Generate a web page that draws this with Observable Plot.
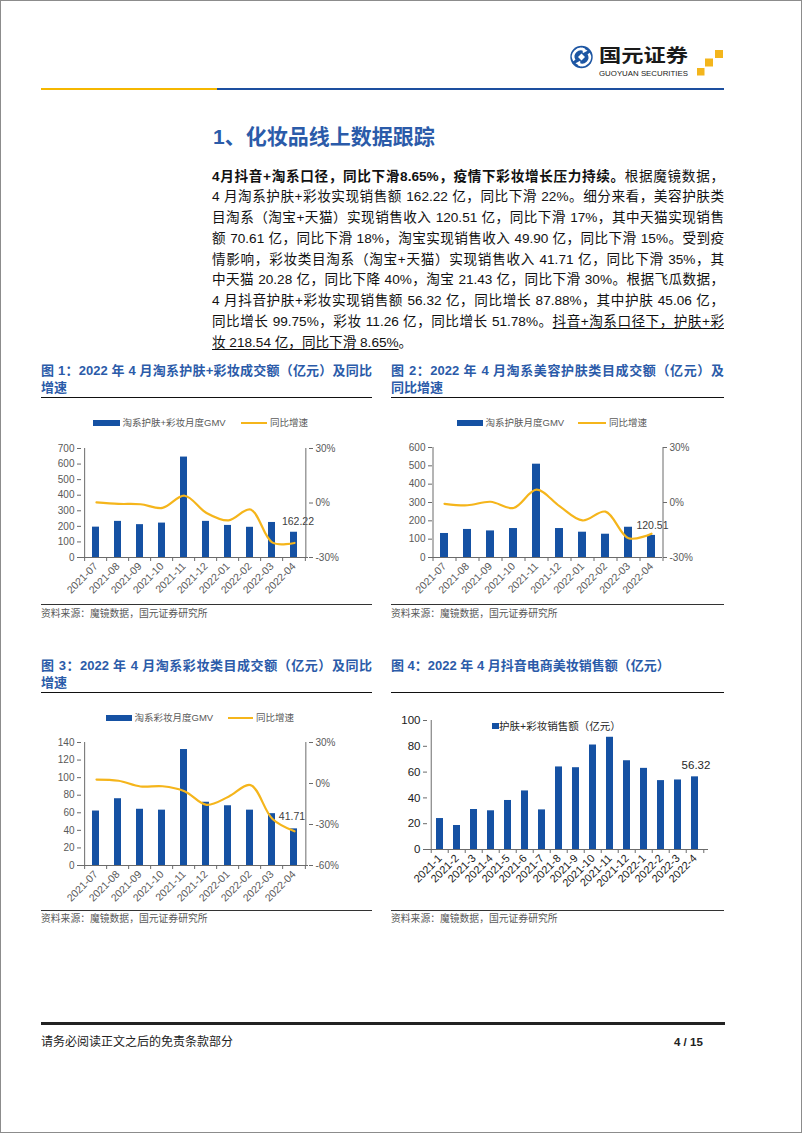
<!DOCTYPE html>
<html><head><meta charset="utf-8">
<script src="https://cdn.jsdelivr.net/npm/d3@7"></script>
<script src="https://cdn.jsdelivr.net/npm/@observablehq/plot@0.6"></script>
<style>
body{margin:0;background:#fff;}
#page{position:relative;width:802px;height:1133px;overflow:hidden;background:#fff;font-family:"Liberation Sans","Noto Sans CJK SC",sans-serif;color:#111;}
#page div{position:absolute;}
u{text-decoration:underline;text-underline-offset:2px;}
</style></head><body><div id="page"></div>
<script>
// ---------- data ----------
const months1 = ["2021-07","2021-08","2021-09","2021-10","2021-11","2021-12","2022-01","2022-02","2022-03","2022-04"];
const gmvTotal = [195, 232, 211, 221, 645, 232, 206, 194, 225, 162.22];
const yoyTotal = [0.3, -0.5, -0.7, -2.7, 4.0, -5.5, -9.6, -3.6, -21.8, -22.0];
const gmvSkin = [131, 153, 145, 158, 509, 158, 138, 127, 165, 120.51];
const yoySkin = [-0.7, -1.5, 0.4, -3.0, 7.0, -2.0, -9.8, -5.0, -19.5, -17.0];
const gmvMakeup = [62, 76, 64, 63, 132, 72, 68, 63, 59, 41.71];
const yoyMakeup = [2.9, 2.0, -2.2, -2.0, -5.6, -15.6, -9.7, -1.2, -26.0, -35.0];
const months4 = ["2021-1","2021-2","2021-3","2021-4","2021-5","2021-6","2021-7","2021-8","2021-9","2021-10","2021-11","2021-12","2022-1","2022-2","2022-3","2022-4"];
const douyinSales = [24, 18.6, 31, 30, 38, 45.4, 30.7, 64, 63.4, 81, 87, 68.8, 62.9, 53.4, 53.9, 56.32];
const ticks1 = [0,100,200,300,400,500,600,700];
const ticks2 = [0,100,200,300,400,500,600];
const ticks3 = [0,20,40,60,80,100,120,140];
const ticks4 = [0,20,40,60,80,100];
const pctTicks1 = [-30,0,30];
const pctTicks3 = [-60,-30,0,30];

// ---------- styles ----------
const BLUE = "#1551a3", YEL = "#f5b51b", AX = "#6b6b6b", TBLUE = "#2b5ba9";
const FONT = "'Liberation Sans','Noto Sans CJK SC',sans-serif";
const page = document.getElementById("page");

function box(x, y, w, h, bg, extra) {
  const d = document.createElement("div");
  Object.assign(d.style, {left: x+"px", top: y+"px", width: w+"px", height: h+"px", background: bg}, extra || {});
  page.appendChild(d); return d;
}
function txt(html, x, y, o) {
  o = o || {};
  const lh = o.lh || 16;
  const d = document.createElement("div");
  d.innerHTML = html;
  const st = {left: x+"px", top: (y - lh/2)+"px", lineHeight: lh+"px", fontSize: (o.size||12)+"px",
    fontWeight: o.weight||"normal", color: o.color||"#111", whiteSpace: o.w ? "normal" : "nowrap"};
  if (o.w) { st.width = o.w+"px"; }
  if (o.justify) { st.textAlign = "justify"; st.textAlignLast = "justify"; }
  Object.assign(d.style, st);
  page.appendChild(d); return d;
}

// ---------- header ----------
const logo = document.createElementNS("http://www.w3.org/2000/svg","svg");
logo.setAttribute("width","170"); logo.setAttribute("height","42");
logo.style.position="absolute"; logo.style.left="565px"; logo.style.top="42px";
logo.innerHTML = `
 <circle cx="16.5" cy="15" r="11.2" fill="#1d56a3"/>
 <path d="M9.3 18.5 A7.6 7.6 0 0 1 19.5 8" stroke="#fff" stroke-width="2.6" fill="none"/>
 <path d="M17.5 5.5 L22.5 8.8 L17.8 11.2 Z" fill="#fff"/>
 <path d="M23.7 11.5 A7.6 7.6 0 0 1 13.5 22" stroke="#fff" stroke-width="2.6" fill="none"/>
 <path d="M15.5 24.5 L10.5 21.2 L15.2 18.8 Z" fill="#fff"/>
 <path d="M16.5 11.5 L20 15 L16.5 18.5 L13 15 Z" fill="#fff"/>
 <text x="34" y="20" font-size="18.5" font-weight="bold" font-family="Noto Sans CJK SC" fill="#1a1a1a" textLength="89" lengthAdjust="spacingAndGlyphs">国元证券</text>
 <text x="34" y="33.5" font-size="7.5" font-family="Liberation Sans Narrow, Liberation Sans" fill="#1a1a1a" textLength="89" lengthAdjust="spacingAndGlyphs">GUOYUAN SECURITIES</text>
 <rect x="150" y="8" width="8" height="8" fill="#f3b51c"/>
 <rect x="140" y="16.5" width="8" height="8" fill="#f3b51c"/>
 <rect x="132" y="26" width="7.5" height="7.5" fill="#f3b51c"/>`;
page.appendChild(logo);
box(41, 88, 176, 2, "#f5b700");
box(217, 88, 507, 2, "#1d4f9f");

// ---------- section title & paragraph ----------
txt("1、化妆品线上数据跟踪", 213, 137, {size: 21, weight: "bold", color: TBLUE, lh: 26});
const paraLines = [
  "<b>4月抖音+淘系口径，同比下滑8.65%，疫情下彩妆增长压力持续。</b>根据魔镜数据，",
  "4 月淘系护肤+彩妆实现销售额 162.22 亿，同比下滑 22%。细分来看，美容护肤类",
  "目淘系（淘宝+天猫）实现销售收入 120.51 亿，同比下滑 17%，其中天猫实现销售",
  "额 70.61 亿，同比下滑 18%，淘宝实现销售收入 49.90 亿，同比下滑 15%。受到疫",
  "情影响，彩妆类目淘系（淘宝+天猫）实现销售收入 41.71 亿，同比下滑 35%，其",
  "中天猫 20.28 亿，同比下降 40%，淘宝 21.43 亿，同比下滑 30%。根据飞瓜数据，",
  "4 月抖音护肤+彩妆实现销售额 56.32 亿，同比增长 87.88%，其中护肤 45.06 亿，",
  "同比增长 99.75%，彩妆 11.26 亿，同比增长 51.78%。<u>抖音+淘系口径下，护肤+彩</u>",
  "<u>妆 218.54 亿，同比下滑 8.65%</u>。"
];
paraLines.forEach((l, i) => {
  const last = i === paraLines.length - 1;
  txt(l, 212, 177 + i*20.75, {size: 13.6, lh: 20.75, w: last ? null : 512, justify: !last, color: "#111"});
});

// ---------- figure titles ----------
function figTitle(l1, l2, x, w, y, justify) {
  txt(l1, x, y, {size: 13, weight: "bold", color: TBLUE, lh: 16, w: justify ? w : null, justify});
  if (l2) txt(l2, x, y + 16.5, {size: 13, weight: "bold", color: TBLUE, lh: 16});
  box(x, y + 25.5, w, 1.6, "#111");
}
figTitle("图 1：2022 年 4 月淘系护肤+彩妆成交额（亿元）及同比", "增速", 41, 331, 371, true);
figTitle("图 2：2022 年 4 月淘系美容护肤类目成交额（亿元）及", "同比增速", 391, 333, 371, true);
figTitle("图 3：2022 年 4 月淘系彩妆类目成交额（亿元）及同比", "增速", 41, 331, 666, true);
figTitle("图 4：2022 年 4 月抖音电商美妆销售额（亿元）", null, 391, 333, 666, false);

function source(x, w, yLine, yText) {
  box(x, yLine, w, 1, "#333");
  txt("资料来源：魔镜数据，国元证券研究所", x, yText, {size: 9.8, color: "#595959", lh: 13});
}
source(41, 331, 604, 613);
source(391, 333, 604, 613);
source(41, 331, 910, 918);
source(391, 333, 910, 918);

// ---------- legends ----------
function dualLegend(y, r0, rw, t1, l0, lw, t2) {
  box(r0, y - 3.2, rw, 6.5, BLUE);
  txt(t1, r0 + rw + 2.5, y, {size: 9.5, color: "#595959", lh: 12});
  box(l0, y - 1.2, lw, 2.5, YEL);
  txt(t2, l0 + lw + 3, y, {size: 9.5, color: "#595959", lh: 12});
}
dualLegend(423, 93, 27, "淘系护肤+彩妆月度GMV", 241, 26, "同比增速");
dualLegend(423, 457, 26, "淘系护肤月度GMV", 578, 28, "同比增速");
dualLegend(718, 106, 26, "淘系彩妆月度GMV", 228, 25, "同比增速");
box(492, 722.5, 6.5, 6.5, BLUE);
txt("护肤+彩妆销售额（亿元）", 499, 726, {size: 10.5, color: "#262626", lh: 13});

// ---------- charts ----------
function holder(x, y, w, h) {
  const d = document.createElement("div");
  Object.assign(d.style, {left: x+"px", top: y+"px", width: w+"px", height: h+"px"});
  page.appendChild(d); return d;
}
function baseStyle() {
  return {background: "transparent", color: "#595959", fontFamily: FONT, fontSize: "10px", overflow: "visible"};
}

function dualChart(c) {
  const n = c.months.length;
  const step = (c.width - c.ml - c.mr) / n;
  const pad = 0.66;
  const rows = c.months.map((m, i) => ({m, v: c.gmv[i], p: c.yoy[i]}));
  const first = c.months[0], last = c.months[n-1];
  const dims = {width: c.width, height: c.height, marginLeft: c.ml, marginRight: c.mr, marginTop: c.mt, marginBottom: c.mb};
  const A = Plot.plot({...dims, style: baseStyle(),
    x: {domain: c.months, paddingInner: pad, paddingOuter: pad/2, label: null},
    y: {domain: [0, c.yTicks[c.yTicks.length-1]], label: null},
    marks: [
      Plot.barY(rows, {x: "m", y: "v", fill: BLUE}),
      Plot.ruleY([0], {stroke: AX}),
      Plot.ruleX([first], {dx: -step/2, y1: 0, y2: c.yTicks[c.yTicks.length-1], stroke: AX}),
      Plot.axisY({ticks: c.yTicks, tickSize: 4, tickPadding: 3, fontSize: 10, label: null, stroke: AX}),
      Plot.axisX({ticks: c.months, tickSize: 4, tickFormat: () => "", dx: -step/2, label: null, stroke: AX}),
      Plot.axisX({ticks: [last], tickSize: 4, tickFormat: () => "", dx: step/2, label: null, stroke: AX}),
      Plot.axisX({ticks: c.months, tickSize: 0, tickPadding: 7, tickRotate: -45, fontSize: 10.5, label: null}),
      Plot.text([rows[n-1]], {x: "m", y: "v", text: d => d.v.toFixed(2), dx: c.ldx, dy: c.ldy, fontSize: 10.5, fill: "#404040"})
    ]});
  const B = Plot.plot({...dims, style: baseStyle(),
    x: {domain: c.months, paddingInner: pad, paddingOuter: pad/2, axis: null},
    y: {domain: [c.pTicks[0], c.pTicks[c.pTicks.length-1]], label: null},
    marks: [
      Plot.line(rows, {x: "m", y: "p", stroke: YEL, strokeWidth: 2.2, curve: "catmull-rom"}),
      Plot.ruleX([last], {dx: step/2, y1: c.pTicks[0], y2: c.pTicks[c.pTicks.length-1], stroke: AX}),
      Plot.axisY({anchor: "right", ticks: c.pTicks, tickFormat: d => d + "%", tickSize: 4, tickPadding: 3, fontSize: 10, label: null, stroke: AX})
    ]});
  const h = holder(c.left, c.top, c.width, c.height);
  A.style.position = "absolute"; A.style.left = "0px"; A.style.top = "0px";
  B.style.position = "absolute"; B.style.left = "0px"; B.style.top = "0px";
  h.appendChild(A); h.appendChild(B);
}

dualChart({months: months1, gmv: gmvTotal, yoy: yoyTotal, yTicks: ticks1, pTicks: pctTicks1,
  left: 30, top: 437, width: 340, height: 170, ml: 51, mr: 62, mt: 11, mb: 50, ldx: 4, ldy: -11});
dualChart({months: months1, gmv: gmvSkin, yoy: yoySkin, yTicks: ticks2, pTicks: pctTicks1,
  left: 382, top: 437, width: 340, height: 170, ml: 50, mr: 60, mt: 10, mb: 50, ldx: 1, ldy: -10});
dualChart({months: months1, gmv: gmvMakeup, yoy: yoyMakeup, yTicks: ticks3, pTicks: pctTicks3,
  left: 30, top: 731, width: 340, height: 184, ml: 51, mr: 62, mt: 11, mb: 50, ldx: -2, ldy: -12});

(function () {
  const width = 340, height = 190, ml = 45, mr = 14, mt = 10, mb = 51;
  const n = months4.length, step = (width - ml - mr) / n, pad = 0.56;
  const rows = months4.map((m, i) => ({m, v: douyinSales[i]}));
  const first = months4[0], last = months4[n-1];
  const P = Plot.plot({width, height, marginLeft: ml, marginRight: mr, marginTop: mt, marginBottom: mb,
    style: {...baseStyle(), color: "#1a1a1a"},
    x: {domain: months4, paddingInner: pad, paddingOuter: pad/2, label: null},
    y: {domain: [0, 100], label: null},
    marks: [
      Plot.barY(rows, {x: "m", y: "v", fill: BLUE}),
      Plot.ruleY([0], {stroke: AX}),
      Plot.ruleX([first], {dx: -step/2, y1: 0, y2: 100, stroke: AX}),
      Plot.axisY({ticks: ticks4, tickSize: 4, tickPadding: 3, fontSize: 11.5, label: null, stroke: AX}),
      Plot.axisX({ticks: months4, tickSize: 4, tickFormat: () => "", dx: -step/2, label: null, stroke: AX}),
      Plot.axisX({ticks: [last], tickSize: 4, tickFormat: () => "", dx: step/2, label: null, stroke: AX}),
      Plot.axisX({ticks: months4, tickSize: 0, tickPadding: 7, tickRotate: -45, fontSize: 11, label: null}),
      Plot.text([rows[n-1]], {x: "m", y: "v", text: d => d.v.toFixed(2), dx: 1, dy: -12, fontSize: 11.5, fill: "#262626"})
    ]});
  const h = holder(382, 710, width, height);
  h.appendChild(P);
})();

// ---------- footer ----------
box(41, 1022, 684, 2.5, "#222");
txt("请务必阅读正文之后的免责条款部分", 41, 1042, {size: 12, color: "#222", lh: 16});
txt("4 / 15", 674, 1042, {size: 11.5, weight: "bold", color: "#222", lh: 16});

// page frame
box(0, 0, 802, 1133, "transparent", {border: "1px solid #8c8c8c", boxSizing: "border-box", pointerEvents: "none"});
</script></body></html>
